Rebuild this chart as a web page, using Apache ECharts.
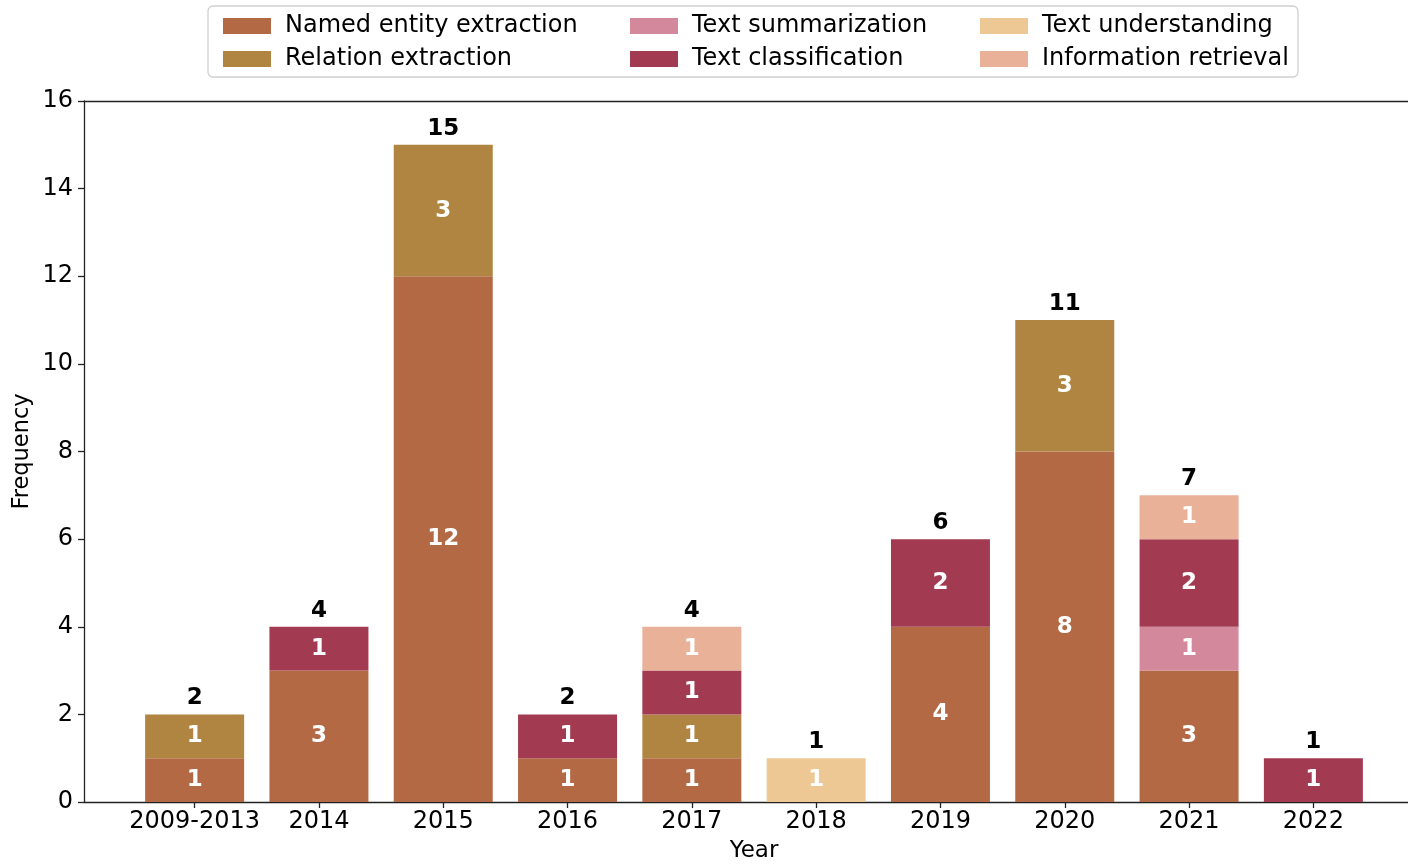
<!DOCTYPE html>
<html>
<head>
<meta charset="utf-8">
<script src="https://cdn.jsdelivr.net/npm/echarts@6/dist/echarts.min.js"></script>
<style>
html,body{margin:0;padding:0;background:#fff;}
#chart{width:1408px;height:864px;}
</style>
</head>
<body>
<div id="chart"></div>
<script>
const categories = ['2009-2013','2014','2015','2016','2017','2018','2019','2020','2021','2022'];
const seriesNames = ['Named entity extraction','Relation extraction','Text summarization','Text classification','Text understanding','Information retrieval'];
const namedEntity    = [1,3,12,1,1,0,4,8,3,0];
const relation       = [1,0,3,0,1,0,0,3,0,0];
const summarization  = [0,0,0,0,0,0,0,0,1,0];
const classification = [0,1,0,1,1,0,2,0,2,1];
const understanding  = [0,0,0,0,0,1,0,0,0,0];
const retrieval      = [0,0,0,0,1,0,0,0,1,0];
const yTicks = [0,2,4,6,8,10,12,14,16];

const seriesValues = [namedEntity, relation, summarization, classification, understanding, retrieval];
const colors = ['#b36944','#b08541','#d4889b','#a23a52','#edc895','#e9b198'];
const FONT = 'DejaVu Sans';
const idx = categories.map((c,i)=>i);
const totals = idx.map(i => seriesValues.reduce((s,arr)=>s+arr[i],0));

const barSeries = seriesNames.map((name, k) => ({
  name: name,
  type: 'bar',
  stack: 'all',
  barWidth: 99,
  encode: {x: 1, y: 0},
  itemStyle: {color: colors[k]},
  label: {
    show: true,
    position: 'inside',
    color: '#fff',
    fontFamily: FONT,
    fontWeight: 'bold',
    fontSize: 23,
    formatter: p => (p.value[0] > 0 ? String(p.value[0]) : '')
  },
  data: idx.map(i => [seriesValues[k][i], i])
}));

const totalSeries = {
  name: 'total',
  type: 'scatter',
  symbol: 'rect',
  symbolSize: 1,
  itemStyle: {color: 'rgba(0,0,0,0)', opacity: 1},
  label: {
    show: true,
    position: 'top',
    distance: 4,
    color: '#000',
    fontFamily: FONT,
    fontWeight: 'bold',
    fontSize: 23,
    formatter: p => String(p.value[1])
  },
  data: idx.map(i => [i, totals[i]]),
  z: 5
};

function legendCol(left, names) {
  return {
    orient: 'vertical',
    left: left,
    top: 9,
    itemWidth: 48,
    itemHeight: 16,
    itemGap: 9,
    icon: 'rect',
    selectedMode: false,
    data: names,
    textStyle: {fontFamily: FONT, fontSize: 24, color: '#000', lineHeight: 16, padding: [0,0,0,9]}
  };
}

const chart = echarts.init(document.getElementById('chart'), null, {renderer: 'canvas'});
chart.setOption({
  animation: false,
  backgroundColor: '#fff',
  graphic: [{
    type: 'rect',
    z: 0,
    shape: {x: 208, y: 6, width: 1090, height: 71, r: 5},
    style: {fill: '#fff', stroke: '#d0d0d0', lineWidth: 1.3}
  }],
  legend: [
    legendCol(218, [seriesNames[0], seriesNames[1]]),
    legendCol(625, [seriesNames[2], seriesNames[3]]),
    legendCol(975, [seriesNames[4], seriesNames[5]])
  ],
  grid: {left: 84, top: 101, width: 1340, height: 701, containLabel: false, outerBoundsMode: 'none'},
  xAxis: [{
    type: 'value',
    min: -0.89,
    max: 9.89,
    name: 'Year',
    nameLocation: 'middle',
    nameGap: 38,
    nameTextStyle: {fontFamily: FONT, fontSize: 23, color: '#000'},
    splitLine: {show: false},
    axisLine: {show: true, onZero: false, lineStyle: {color: '#222', width: 1.3}},
    axisTick: {show: true, length: 6, customValues: idx, lineStyle: {color: '#222', width: 1.3}},
    axisLabel: {
      customValues: idx,
      margin: 8,
      fontFamily: FONT, fontSize: 24, color: '#000',
      formatter: v => categories[Math.round(v)] || ''
    }
  }, {
    type: 'value',
    position: 'top',
    min: -0.89,
    max: 9.89,
    splitLine: {show: false},
    axisLine: {show: true, onZero: false, lineStyle: {color: '#222', width: 1.3}},
    axisTick: {show: false},
    axisLabel: {show: false}
  }],
  yAxis: {
    type: 'value',
    min: yTicks[0],
    max: yTicks[yTicks.length-1],
    interval: 2,
    name: 'Frequency',
    nameLocation: 'middle',
    nameGap: 50,
    nameMoveOverlap: false,
    nameTextStyle: {fontFamily: FONT, fontSize: 22.5, color: '#000'},
    splitLine: {show: false},
    axisLine: {show: true, onZero: false, lineStyle: {color: '#222', width: 1.3}},
    axisTick: {show: true, length: 6, lineStyle: {color: '#222', width: 1.3}},
    axisLabel: {margin: 11, fontFamily: FONT, fontSize: 24, color: '#000'}
  },
  series: barSeries.concat([totalSeries])
});
</script>
</body>
</html>
